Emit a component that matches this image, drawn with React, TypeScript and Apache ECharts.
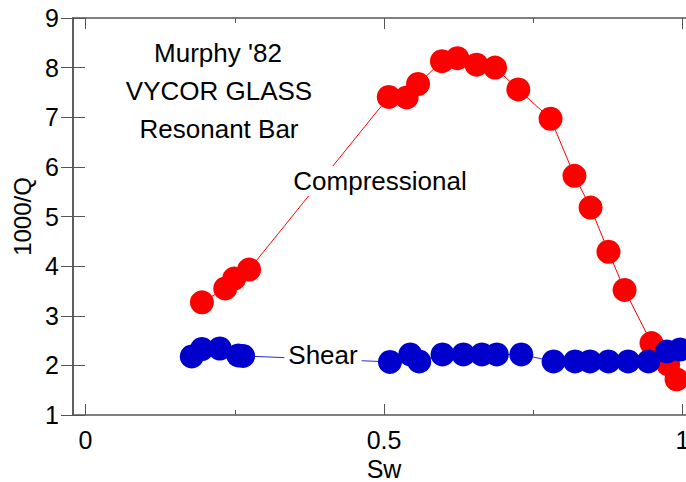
import React, { useEffect, useRef } from "react";
import * as echarts from "echarts";

const compX = [0.195, 0.234, 0.249, 0.274, 0.508, 0.538, 0.557, 0.597, 0.623, 0.655, 0.686, 0.725, 0.779, 0.819, 0.846, 0.876, 0.903, 0.948, 0.976, 0.99];
const compY = [3.27, 3.55, 3.75, 3.93, 7.41, 7.4, 7.67, 8.13, 8.19, 8.06, 8.0, 7.56, 6.97, 5.82, 5.18, 4.29, 3.52, 2.45, 2.02, 1.72];
const shearX = [0.178, 0.195, 0.225, 0.256, 0.264, 0.51, 0.544, 0.559, 0.598, 0.633, 0.664, 0.689, 0.73, 0.784, 0.82, 0.845, 0.876, 0.909, 0.943, 0.974, 0.996];
const shearY = [2.18, 2.33, 2.34, 2.2, 2.19, 2.07, 2.22, 2.08, 2.22, 2.22, 2.22, 2.22, 2.22, 2.08, 2.08, 2.08, 2.08, 2.08, 2.08, 2.28, 2.32];
const xTicks = [0, 0.5, 1];
const yMin = 1;
const yMax = 9;
const notes = ["Murphy '82", "VYCOR GLASS", "Resonant Bar"];

const FONT = '"Liberation Sans", Arial, sans-serif';
const AXIS = "#555";

export default function App() {
  const ref = useRef<HTMLDivElement>(null);
  useEffect(() => {
    if (!ref.current) return;
    const chart = echarts.init(ref.current, null, { renderer: "svg" });
    const text = (t: string, x: number, y: number, bg = false) => ({
      type: "text",
      x,
      y,
      z: 100,
      style: {
        text: t,
        fill: "#000",
        fontSize: 26,
        fontFamily: FONT,
        align: "center",
        verticalAlign: "middle",
        backgroundColor: bg ? "#fff" : undefined,
        padding: bg ? [2, 4] : undefined,
      },
    });
    chart.setOption({
      animation: false,
      backgroundColor: "#fff",
      grid: [
        { left: 85.5, width: 597, top: 18, height: 397, outerBoundsMode: "none", containLabel: false },
        { left: 73, width: 621, top: 18, height: 397, outerBoundsMode: "none", containLabel: false },
      ],
      xAxis: [
        {
          gridIndex: 0,
          type: "value",
          min: xTicks[0],
          max: xTicks[xTicks.length - 1],
          interval: 0.5,
          position: "bottom",
          axisLine: { show: false },
          axisTick: { show: true, inside: true, length: 11, lineStyle: { color: AXIS } },
          minorTick: { show: true, splitNumber: 2, length: 5, lineStyle: { color: AXIS } },
          splitLine: { show: false },
          axisLabel: {
            fontSize: 25,
            fontFamily: FONT,
            color: "#000",
            margin: 12,
            formatter: (v: number) => String(v),
          },
          name: "Sw",
          nameLocation: "middle",
          nameGap: 37,
          nameTextStyle: { fontSize: 25, fontFamily: FONT, color: "#000" },
        },
        {
          gridIndex: 0,
          type: "value",
          min: xTicks[0],
          max: xTicks[xTicks.length - 1],
          interval: 0.5,
          position: "top",
          axisLine: { show: false },
          axisTick: { show: true, inside: true, length: 11, lineStyle: { color: AXIS } },
          minorTick: { show: true, splitNumber: 2, length: 5, lineStyle: { color: AXIS } },
          splitLine: { show: false },
          axisLabel: { show: false },
        },
        {
          gridIndex: 1,
          type: "value",
          min: 0,
          max: 1,
          position: "bottom",
          axisLine: { show: true, lineStyle: { color: AXIS, width: 1.5 } },
          axisTick: { show: false },
          splitLine: { show: false },
          axisLabel: { show: false },
        },
        {
          gridIndex: 1,
          type: "value",
          min: 0,
          max: 1,
          position: "top",
          axisLine: { show: true, lineStyle: { color: AXIS, width: 1.5 } },
          axisTick: { show: false },
          splitLine: { show: false },
          axisLabel: { show: false },
        },
      ],
      yAxis: [
        {
          gridIndex: 0,
          type: "value",
          min: yMin,
          max: yMax,
          show: false,
        },
        {
          gridIndex: 1,
          type: "value",
          min: yMin,
          max: yMax,
          interval: 1,
          position: "left",
          axisLine: { show: true, lineStyle: { color: AXIS, width: 1.5 } },
          axisTick: { show: true, inside: true, length: 12, lineStyle: { color: AXIS } },
          splitLine: { show: false },
          axisLabel: { fontSize: 25, fontFamily: FONT, color: "#000", margin: 14 },
          name: "1000/Q",
          nameLocation: "middle",
          nameGap: 37,
          nameTextStyle: { fontSize: 24, fontFamily: FONT, color: "#000" },
        },
        {
          gridIndex: 1,
          type: "value",
          min: yMin,
          max: yMax,
          interval: 1,
          position: "right",
          axisLine: { show: true, lineStyle: { color: AXIS, width: 1.5 } },
          axisTick: { show: true, inside: true, length: 12, lineStyle: { color: AXIS } },
          splitLine: { show: false },
          axisLabel: { show: false },
        },
      ],
      series: [
        {
          type: "line",
          xAxisIndex: 0,
          yAxisIndex: 0,
          data: compX.map((x, i) => [x, compY[i]]),
          symbol: "circle",
          symbolSize: 24,
          showSymbol: true,
          clip: false,
          itemStyle: { color: "#ff0000" },
          lineStyle: { color: "#ff0000", width: 1 },
          z: 2,
        },
        {
          type: "line",
          xAxisIndex: 0,
          yAxisIndex: 0,
          data: shearX.map((x, i) => [x, shearY[i]]),
          symbol: "circle",
          symbolSize: 24,
          showSymbol: true,
          clip: false,
          itemStyle: { color: "#0000cc" },
          lineStyle: { color: "#2a2acc", width: 1 },
          z: 3,
        },
      ],
      graphic: [
        text(notes[0], 218, 53),
        text(notes[1], 219, 91),
        text(notes[2], 219, 129),
        text("Compressional", 380, 181, true),
        text("Shear", 323, 355, true),
      ],
    });
    return () => chart.dispose();
  }, []);
  return (
    <div
      ref={ref}
      style={{ position: "fixed", left: 0, top: 0, width: 686, height: 482 }}
    />
  );
}
